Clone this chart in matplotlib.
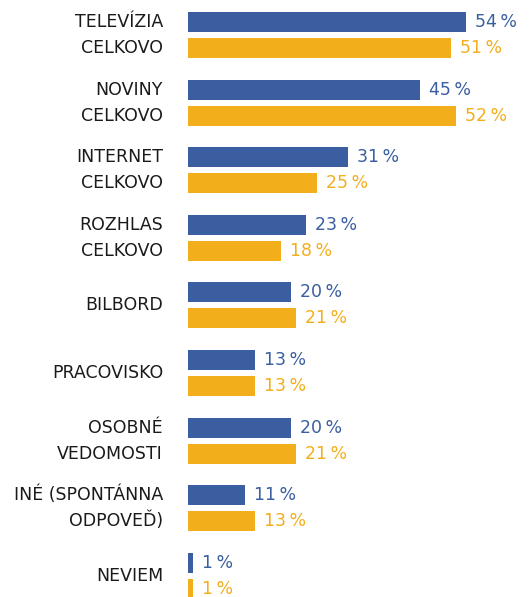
import matplotlib
matplotlib.use("Agg")
import matplotlib.pyplot as plt

categories = ["TELEVÍZIA\nCELKOVO", "NOVINY\nCELKOVO", "INTERNET\nCELKOVO",
              "ROZHLAS\nCELKOVO", "BILBORD", "PRACOVISKO", "OSOBNÉ\nVEDOMOSTI",
              "INÉ (SPONTÁNNA\nODPOVEĎ)", "NEVIEM"]
series_a = [54, 45, 31, 23, 20, 13, 20, 11, 1]
series_b = [51, 52, 25, 18, 21, 13, 21, 13, 1]

blue = "#3A5EA0"
orange = "#F3AE1C"

W, H = 530, 597
fig = plt.figure(figsize=(W / 100, H / 100), dpi=100)
left_px = 188
ax = fig.add_axes([left_px / W, 0, 1 - left_px / W, 1])

gap = 67.6  # px per group
px = 1 / gap
ax.set_ylim(-35 * px, (H - 35) * px)
ax.invert_yaxis()
xscale = 5.15
ax.set_xlim(0, (W - left_px) / xscale)

off = 13 * px
bh = 20 * px
ys = list(range(len(categories)))
ya = [y - off for y in ys]
yb = [y + off for y in ys]
ax.barh(ya, series_a, height=bh, color=blue)
ax.barh(yb, series_b, height=bh, color=orange)

font = "DejaVu Sans"
vgap = 9 / xscale
for y, a, b, lab in zip(ys, series_a, series_b, categories):
    ax.text(a + vgap, y - off, f"{a}\u2009%", color=blue, va="center", ha="left",
            fontsize=12.5, family=font)
    ax.text(b + vgap, y + off, f"{b}\u2009%", color=orange, va="center", ha="left",
            fontsize=12.5, family=font)
    lines = lab.split("\n")
    tx = -(left_px - 163) / xscale
    if len(lines) == 2:
        ax.text(tx, y - off, lines[0], ha="right", va="center", fontsize=12.5,
                family=font, color="#1a1a1a", clip_on=False)
        ax.text(tx, y + off, lines[1], ha="right", va="center", fontsize=12.5,
                family=font, color="#1a1a1a", clip_on=False)
    else:
        ax.text(tx, y, lines[0], ha="right", va="center", fontsize=12.5,
                family=font, color="#1a1a1a", clip_on=False)

ax.axis("off")
fig.savefig("out.png", dpi=100)
